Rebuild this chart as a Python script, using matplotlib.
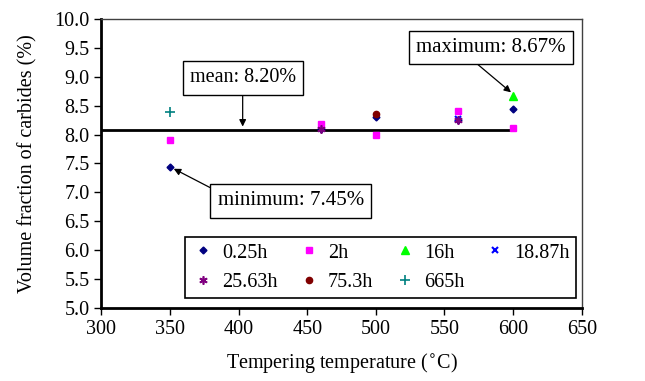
import matplotlib
matplotlib.use("Agg")
import matplotlib.pyplot as plt

plt.rcParams['font.family'] = ['Liberation Serif', 'DejaVu Serif']
plt.rcParams['font.size'] = 14.5

# tempering temperature (C) and volume fraction (%) per tempering time
t_025 = [350, 460, 500, 560, 600]
v_025 = [7.44, 8.10, 8.31, 8.25, 8.45]
t_2 = [350, 460, 500, 560, 600]
v_2 = [7.91, 8.19, 8.00, 8.40, 8.12]
t_16 = [600]
v_16 = [8.67]
t_1887 = [560]
v_1887 = [8.27]
t_2563 = [460, 560]
v_2563 = [8.10, 8.25]
t_753 = [500]
v_753 = [8.36]
t_665 = [350]
v_665 = [8.39]

mean_line_x = [300, 600]
mean_line_y = [8.08, 8.08]

fig = plt.figure(figsize=(6.45, 3.81), dpi=100)
ax = fig.add_axes([0.157, 0.192, 0.745, 0.758])

ax.plot(mean_line_x, mean_line_y, color='black', lw=2, zorder=1)

h1, = ax.plot(t_025, v_025, 'D', color='#000080', ms=3.5, ls='none', label='0.25h')
h2, = ax.plot(t_2, v_2, 's', color='#ff00ff', ms=5, ls='none', label='2h')
h3, = ax.plot(t_16, v_16, '^', color='#00ff00', ms=5.5, ls='none', label='16h')
h4, = ax.plot(t_1887, v_1887, 'x', color='#0000ff', ms=5, mew=1.5, ls='none', label='18.87h')
h5, = ax.plot(t_2563, v_2563, marker=(6, 2, 0), color='#800080', ms=6, mew=1.2, ls='none', label='25.63h')
h6, = ax.plot(t_753, v_753, 'o', color='#800000', ms=4.5, ls='none', label='75.3h')
h7, = ax.plot(t_665, v_665, '+', color='#008080', ms=7, mew=1.2, ls='none', label='665h')

box = dict(boxstyle='square,pad=0.35', fc='white', ec='black', lw=1)
arr = dict(arrowstyle='-|>', color='black', lw=0.9, mutation_scale=10, shrinkA=0, shrinkB=2)
ax.annotate('mean: 8.20%', xy=(403, 8.09), xytext=(403, 8.98), ha='center', va='center',
            bbox=box, arrowprops=arr)
ax.annotate('maximum: 8.67%', xy=(600, 8.7), xytext=(584, 9.51), ha='center', va='center',
            fontsize=15, bbox=box, arrowprops=dict(arr, relpos=(0.35, 0)))
ax.annotate('minimum: 7.45%', xy=(351, 7.43), xytext=(438, 6.85), ha='center', va='center',
            fontsize=15, bbox=box, arrowprops=dict(arr, relpos=(0, 1)))

ax.set_xlim(300, 650)
ax.set_ylim(5.0, 10.0)
ax.set_xticks(range(300, 651, 50))
ax.set_yticks([5.0 + 0.5 * i for i in range(11)])
ax.yaxis.set_major_formatter(matplotlib.ticker.FormatStrFormatter('%.1f'))
ax.tick_params(direction='out', length=5, width=1, colors='black', labelsize=14.5)

for s in ['left', 'bottom']:
    ax.spines[s].set_linewidth(2)
for s in ['top', 'right']:
    ax.spines[s].set_linewidth(1)
    ax.spines[s].set_color('#404040')

ax.set_xlabel('Tempering temperature ($^{\\circ}$C)', fontsize=14.5, labelpad=9)
ax.set_ylabel('Volume fraction of carbides (%)', fontsize=14.5, labelpad=12)

# legend fills column-first, so interleave to get row order
handles = [h1, h5, h2, h6, h3, h7, h4]
leg = ax.legend(handles=handles, ncol=4, loc='lower right', bbox_to_anchor=(0.988, 0.035),
                fancybox=False, edgecolor='black', framealpha=1, fontsize=14.5,
                handlelength=1.2, columnspacing=0.95, handletextpad=0.35,
                borderpad=0.3, labelspacing=0.5, borderaxespad=0)
leg.get_frame().set_linewidth(1.2)

fig.savefig('out.png', dpi=100)
